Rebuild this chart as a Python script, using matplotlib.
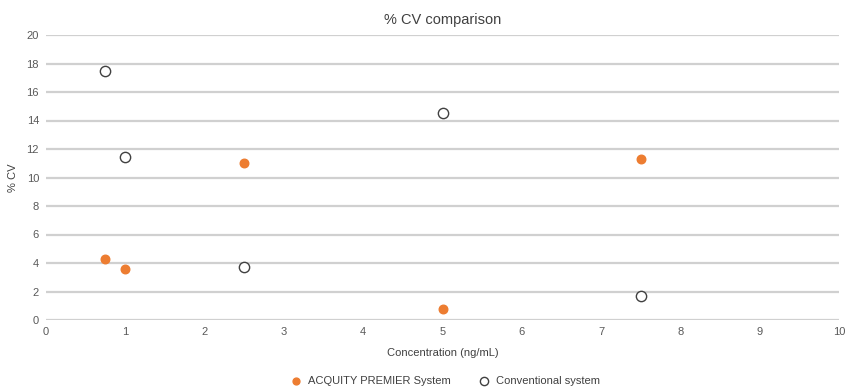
import matplotlib.pyplot as plt

plt.rcParams['font.family'] = ['Liberation Sans', 'DejaVu Sans']

conc = [0.75, 1, 2.5, 5, 7.5]
premier_cv = [4.3, 3.55, 11.0, 0.8, 11.3]
conventional_cv = [17.5, 11.45, 3.7, 14.5, 1.7]

fig = plt.figure(figsize=(8.47, 3.92), dpi=100)
ax = fig.add_axes([46/847, 72/392, 793/847, 285/392])

ax.scatter(conc, premier_cv, s=38, color='#ED7D31', zorder=3,
           label='ACQUITY PREMIER System')
ax.scatter(conc, conventional_cv, s=55, facecolors='white', edgecolors='#404040',
           linewidths=1.0, zorder=3, label='Conventional system')

ax.set_xlim(0, 10)
ax.set_ylim(0, 20)
ax.set_xticks(range(0, 11))
ax.set_yticks(range(0, 21, 2))
ax.grid(axis='y', color='#d0d0d0', linewidth=1.6)
ax.set_axisbelow(True)
for s in ax.spines.values():
    s.set_visible(False)
ax.tick_params(length=0, labelsize=8, colors='#595959', pad=5)

ax.set_title('% CV comparison', fontsize=10.5, color='#404040', pad=8)
ax.set_xlabel('Concentration (ng/mL)', fontsize=8, color='#404040', labelpad=8)
ax.set_ylabel('% CV', fontsize=8, color='#404040', labelpad=6)

leg = ax.legend(loc='upper center', bbox_to_anchor=(0.5, -0.16), ncol=2, frameon=False,
                fontsize=8, handletextpad=0.1, columnspacing=2.0, markerscale=0.8)
for t in leg.get_texts():
    t.set_color('#404040')

fig.savefig('out.png', dpi=100)
